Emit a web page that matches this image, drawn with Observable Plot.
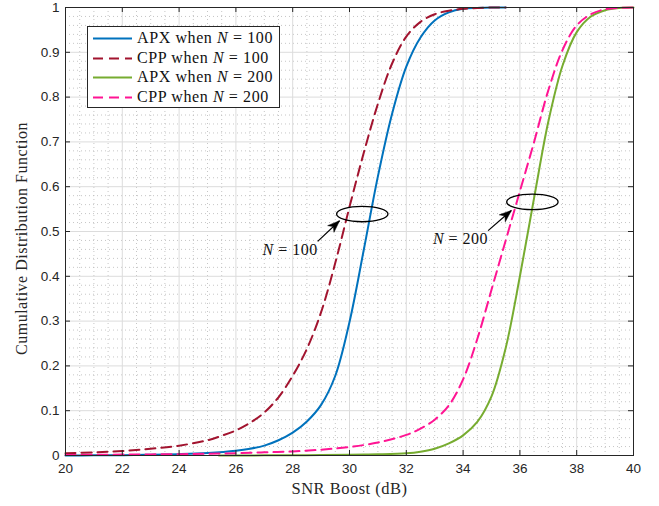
<!DOCTYPE html>
<html>
<head>
<meta charset="utf-8">
<script src="https://cdn.jsdelivr.net/npm/d3@7"></script>
<script src="https://cdn.jsdelivr.net/npm/@observablehq/plot@0.6"></script>
<style>
  body { margin: 0; background: #fff; }
  #wrap { position: relative; width: 659px; height: 506px; }
  #legend {
    position: absolute; left: 87px; top: 26px; width: 193px; height: 82px;
    box-sizing: border-box; border: 1px solid #262626; background: #fff;
    font-family: "Liberation Serif", "Times New Roman", serif; font-size: 16px;
    letter-spacing: 0.6px; color: #111;
  }
  #legend .row { position: absolute; left: 0; height: 18px; line-height: 18px; white-space: nowrap; }
  #legend svg { position: absolute; left: 4px; top: 0; }
  #legend span { position: absolute; left: 49px; top: 0; }
</style>
</head>
<body>
<div id="wrap"></div>
<script>
// ---- axis ticks ----
const xTicks = [20, 22, 24, 26, 28, 30, 32, 34, 36, 38, 40];
const yTicks = [0, 0.1, 0.2, 0.3, 0.4, 0.5, 0.6, 0.7, 0.8, 0.9, 1];

// ---- APX, N = 100 ----
const snrApx100 = [20, 21, 22, 23, 24, 25, 26, 26.5, 27, 27.5, 28, 28.5, 29, 29.5, 30, 30.5, 31, 31.5, 32, 32.5, 33, 33.5, 34, 34.5, 35, 35.5];
const cdfApx100 = [0, 0.0003, 0.0008, 0.0016, 0.003, 0.0055, 0.0105, 0.015, 0.022, 0.034, 0.051, 0.076, 0.113, 0.178, 0.298, 0.458, 0.623, 0.763, 0.868, 0.933, 0.971, 0.989, 0.997, 0.999, 1, 1];

// ---- CPP, N = 100 ----
const snrCpp100 = [20, 21, 22, 23, 24, 25, 25.5, 26, 26.5, 27, 27.5, 28, 28.5, 29, 29.5, 30, 30.5, 31, 31.5, 32, 32.5, 33, 33.5, 34, 34.5, 35, 35.5];
const cdfCpp100 = [0.005, 0.007, 0.010, 0.015, 0.022, 0.034, 0.044, 0.056, 0.073, 0.096, 0.13, 0.178, 0.238, 0.32, 0.43, 0.555, 0.675, 0.785, 0.875, 0.935, 0.968, 0.985, 0.993, 0.997, 0.999, 1, 1];

// ---- APX, N = 200 ----
const snrApx200 = [25.4, 26, 27, 28, 29, 30, 31, 32, 32.5, 33, 33.5, 34, 34.5, 35, 35.5, 36, 36.5, 37, 37.5, 38, 38.5, 39, 39.5, 40];
const cdfApx200 = [0, 0.0001, 0.0003, 0.0006, 0.001, 0.0016, 0.0027, 0.005, 0.0085, 0.015, 0.027, 0.045, 0.075, 0.132, 0.24, 0.40, 0.575, 0.745, 0.87, 0.945, 0.98, 0.994, 0.999, 1];

// ---- CPP, N = 200 ----
const snrCpp200 = [20, 21, 22, 23, 24, 25, 26, 27, 28, 29, 30, 31, 32, 32.5, 33, 33.5, 34, 34.5, 35, 35.5, 36, 36.5, 37, 37.5, 38, 38.5, 39, 39.5, 40];
const cdfCpp200 = [0.001, 0.0015, 0.002, 0.0025, 0.003, 0.004, 0.005, 0.007, 0.009, 0.013, 0.019, 0.029, 0.046, 0.06, 0.08, 0.112, 0.17, 0.26, 0.37, 0.48, 0.59, 0.70, 0.815, 0.905, 0.96, 0.985, 0.996, 0.999, 1];

// ---- annotations: ellipse centre, arrow tail -> tip, label ----
const noteLabels = ["N = 100", "N = 200"];
const ellipseX = [30.45, 36.44];
const ellipseY = [0.539, 0.566];
const arrowFromX = [28.88, 34.88];
const arrowFromY = [0.478, 0.502];
const arrowToX = [29.65, 35.70];
const arrowToY = [0.524, 0.547];
const labelY = [0.459, 0.484];

const series = [
  {name: "APX", n: 100, snr: snrApx100, cdf: cdfApx100, color: "#0072BD", dash: null},
  {name: "CPP", n: 100, snr: snrCpp100, cdf: cdfCpp100, color: "#A2142F", dash: "10,6"},
  {name: "APX", n: 200, snr: snrApx200, cdf: cdfApx200, color: "#77AC30", dash: null},
  {name: "CPP", n: 200, snr: snrCpp200, cdf: cdfCpp200, color: "#FF1493", dash: "10,6"}
];

// layout
const W = 659, H = 506, mL = 65, mR = 26, mT = 7, mB = 51;
const innerW = W - mL - mR, innerH = H - mT - mB;
const xDomain = [20, 40], yDomain = [0, 1];
const tickLen = 5;

const notes = noteLabels.map((label, i) => {
  // on-screen direction of the arrow, for orienting its head
  const dx = (arrowToX[i] - arrowFromX[i]) * innerW / (xDomain[1] - xDomain[0]);
  const dy = -(arrowToY[i] - arrowFromY[i]) * innerH / (yDomain[1] - yDomain[0]);
  return {
    label, cx: ellipseX[i], cy: ellipseY[i],
    x1: arrowFromX[i], y1: arrowFromY[i], x2: arrowToX[i], y2: arrowToY[i], ly: labelY[i],
    angle: Math.atan2(dx, -dy) * 180 / Math.PI
  };
});

// minor grid positions
const xMinor = d3.range(20, 40.001, 0.5).filter(v => Math.abs(v / 2 - Math.round(v / 2)) > 1e-6);
const yMinor = d3.range(0, 1.0001, 0.02).filter(v => Math.abs(v * 10 - Math.round(v * 10)) > 1e-6);

// flat ellipse outline used as a dot symbol
const ellipseSymbol = {
  draw(ctx, size) {
    const rx = Math.sqrt(size / Math.PI), ry = rx * 0.30, k = 0.5523;
    ctx.moveTo(rx, 0);
    ctx.bezierCurveTo(rx, ry * k, rx * k, ry, 0, ry);
    ctx.bezierCurveTo(-rx * k, ry, -rx, ry * k, -rx, 0);
    ctx.bezierCurveTo(-rx, -ry * k, -rx * k, -ry, 0, -ry);
    ctx.bezierCurveTo(rx * k, -ry, rx, -ry * k, rx, 0);
    ctx.closePath();
  }
};

// notched arrow head, tip at the origin pointing up
const headSymbol = {
  draw(ctx) {
    ctx.moveTo(0, 0);
    ctx.lineTo(4.6, 12);
    ctx.lineTo(0, 8.5);
    ctx.lineTo(-4.6, 12);
    ctx.closePath();
  }
};

const serif = "'Liberation Serif', 'Times New Roman', serif";

const lineMarks = series.map(s => Plot.line(s.snr.map((x, i) => ({x, y: s.cdf[i]})), {
  x: "x", y: "y", stroke: s.color, strokeWidth: 2, curve: "catmull-rom",
  strokeDasharray: s.dash || undefined
}));

const chart = Plot.plot({
  width: W, height: H,
  marginLeft: mL, marginRight: mR, marginTop: mT, marginBottom: mB,
  style: {fontFamily: "'Liberation Sans', Arial, sans-serif", fontSize: "13.5px", color: "#262626", background: "#fff"},
  x: {domain: xDomain, ticks: xTicks, tickSize: 0, tickPadding: 8, tickFormat: d => String(d), label: null},
  y: {domain: yDomain, ticks: yTicks, tickSize: 0, tickPadding: 6, tickFormat: d => String(d), label: null},
  marks: [
    Plot.ruleX(xMinor, {stroke: "#b8b8b8", strokeWidth: 0.8, strokeDasharray: "1,3"}),
    Plot.ruleY(yMinor, {stroke: "#b8b8b8", strokeWidth: 0.8, strokeDasharray: "1,3"}),
    Plot.ruleX(xTicks, {stroke: "#dcdcdc", strokeWidth: 1}),
    Plot.ruleY(yTicks, {stroke: "#dcdcdc", strokeWidth: 1}),
    ...lineMarks,
    Plot.frame({stroke: "#262626", strokeWidth: 1}),
    // inward tick marks on all four sides
    Plot.tickX(xTicks, {x: d => d, insetTop: innerH - tickLen, stroke: "#262626"}),
    Plot.tickX(xTicks, {x: d => d, insetBottom: innerH - tickLen, stroke: "#262626"}),
    Plot.tickY(yTicks, {y: d => d, insetRight: innerW - tickLen, stroke: "#262626"}),
    Plot.tickY(yTicks, {y: d => d, insetLeft: innerW - tickLen, stroke: "#262626"}),
    // annotations
    Plot.dot(notes, {x: "cx", y: "cy", r: 25.7, symbol: ellipseSymbol, stroke: "#000", strokeWidth: 1.3, fill: "none"}),
    Plot.link(notes, {x1: "x1", y1: "y1", x2: "x2", y2: "y2", stroke: "#000", strokeWidth: 1.2}),
    Plot.dot(notes, {x: "x2", y: "y2", symbol: headSymbol, rotate: "angle", fill: "#000", stroke: "#000", strokeWidth: 0.5}),
    Plot.text(notes, {x: "x1", y: "ly", text: "label", textAnchor: "end", fontFamily: serif, fontSize: 16, fill: "#111"}),
    // axis titles
    Plot.text(["SNR Boost (dB)"], {frameAnchor: "bottom", textAnchor: "middle", dy: 38, fontFamily: serif, fontSize: 16.5, fill: "#262626"}),
    Plot.text(["Cumulative Distribution Function"], {frameAnchor: "left", textAnchor: "middle", dx: -44, dy: 7, rotate: -90, fontFamily: serif, fontSize: 16, fill: "#262626"})
  ]
});

// extra tracking on the serif labels; italic N in the annotation labels
chart.querySelectorAll("text").forEach(t => {
  const m = t.textContent.match(/^N = (\d+)$/);
  if (m || t.textContent === "SNR Boost (dB)" || t.textContent === "Cumulative Distribution Function") {
    t.setAttribute("letter-spacing", "0.5");
  }
  if (!m) return;
  t.textContent = "";
  const ns = "http://www.w3.org/2000/svg";
  const a = document.createElementNS(ns, "tspan");
  a.setAttribute("font-style", "italic");
  a.textContent = "N";
  const b = document.createElementNS(ns, "tspan");
  b.textContent = " = " + m[1];
  t.append(a, b);
});

const wrap = document.getElementById("wrap");
wrap.appendChild(chart);

// legend box inside the axes
const legend = document.createElement("div");
legend.id = "legend";
const rowTops = [2, 21.5, 41, 60.5];
series.forEach((s, i) => {
  const row = document.createElement("div");
  row.className = "row";
  row.style.top = rowTops[i] + "px";
  row.innerHTML =
    `<svg width="42" height="18"><line x1="1" x2="40" y1="9.5" y2="9.5" stroke="${s.color}" stroke-width="2" ${s.dash ? `stroke-dasharray="${s.dash}"` : ""}/></svg>` +
    `<span>${s.name} when <i>N</i> = ${s.n}</span>`;
  legend.appendChild(row);
});
wrap.appendChild(legend);
</script>
</body>
</html>
